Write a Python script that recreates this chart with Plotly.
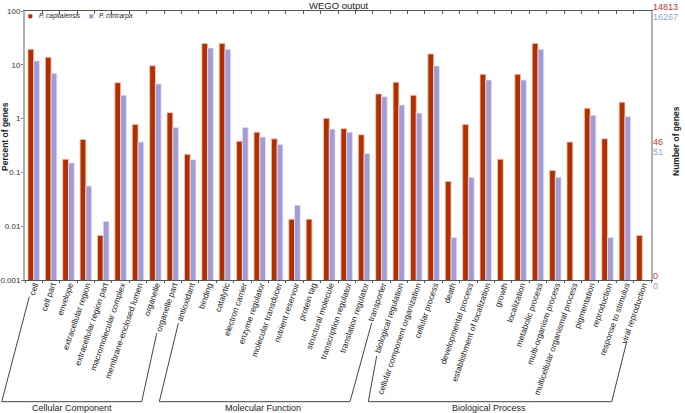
import math
import plotly.graph_objects as go

categories = [
    "cell", "cell part", "envelope", "extracellular region", "extracellular region part",
    "macromolecular complex", "membrane-enclosed lumen", "organelle", "organelle part",
    "antioxidant", "binding", "catalytic", "electron carrier", "enzyme regulator",
    "molecular transducer", "nutrient reservoir", "protein tag", "structural molecule",
    "transcription regulator", "translation regulator", "transporter",
    "biological regulation", "cellular component organization", "cellular process", "death",
    "developmental process", "establishment of localization", "growth", "localization",
    "metabolic process", "multi-organism process", "multicellular organismal process",
    "pigmentation", "reproduction", "response to stimulus", "viral reproduction",
]

capitalensis = [19.4, 13.8, 0.175, 0.41, 0.00675, 4.65, 0.78, 9.6, 1.29,
                0.217, 25.0, 25.0, 0.38, 0.56, 0.42, 0.0135, 0.0135, 1.01, 0.65, 0.50, 2.87,
                4.73, 2.71, 15.9, 0.068, 0.78, 6.65, 0.175, 6.65, 25.0, 0.109, 0.367,
                1.55, 0.42, 2.01, 0.00675]
citricarpa = [11.8, 6.95, 0.15, 0.056, 0.0123, 2.71, 0.367, 4.4, 0.68,
              0.172, 20.5, 19.4, 0.68, 0.455, 0.33, 0.0246, None, 0.64, 0.56, 0.223, 2.55,
              1.79, 1.27, 9.5, 0.00615, 0.081, 5.2, None, 5.2, 19.4, 0.081, None,
              1.15, 0.00615, 1.09, None]

y_tickvals = [0.001, 0.01, 0.1, 1, 10, 100]
y_ticktext = ["0.001", "0.01", "0.1", "1", "10", "100"]

total_genes = [14813, 16267]
mid_genes = [46, 51]
series_names = ["P. capitalensis", "P. citricarpa"]
colors = ["#B23000", "#A39BD4"]
edge_colors = ["#F2C6B8", "#E4E1F4"]

groups = ["Cellular Component", "Molecular Function", "Biological Process"]

FONT = "Liberation Sans, Arial, sans-serif"

fig = go.Figure()
for vals, name, c, ec in zip([capitalensis, citricarpa], series_names, colors, edge_colors):
    fig.add_trace(go.Bar(x=categories, y=vals, name=name, marker=dict(color=c, line=dict(color=ec, width=0.8)),
                         showlegend=False, hoverinfo="skip"))
# helper trace for top axis ticks
fig.add_trace(go.Scatter(x=categories, y=[None] * len(categories), xaxis="x2", yaxis="y",
                         mode="lines", showlegend=False, hoverinfo="skip"))

W, H = 685, 413
L, R, T, B = 25, 34, 11, 133
pw, ph = W - L - R, H - T - B

def px(x):
    return (x - L) / pw

def py(y):
    return (H - B - y) / ph

xrange = [-0.5, len(categories) - 0.5]

fig.update_layout(
    width=W, height=H,
    margin=dict(l=L, r=R, t=T, b=B, autoexpand=False),
    plot_bgcolor="white", paper_bgcolor="white",
    barmode="group", bargap=0.34, bargroupgap=0.0,
    font=dict(family=FONT, color="#222", size=9),
    xaxis=dict(type="category", range=xrange, autorange=False, tickson="boundaries", ticks="outside",
               ticklen=2, tickcolor="#555",
               showline=True, linecolor="#555", linewidth=1, tickangle=-71,
               ticklabelstandoff=-4, ticklabelshift=1,
               tickfont=dict(size=8.3, color="#222"), showgrid=False, automargin=False),
    xaxis2=dict(type="category", overlaying="x", side="top", matches="x", anchor="y",
                tickson="boundaries", ticks="inside", ticklen=3, tickcolor="#555",
                showline=True, linecolor="#555", linewidth=1, showticklabels=False, showgrid=False,
                automargin=False),
    yaxis=dict(type="log", range=[-3, 2], tickvals=y_tickvals, ticktext=y_ticktext,
               ticks="outside", ticklen=2, tickcolor="#888", showline=True, linecolor="#b0b0b0",
               linewidth=2, mirror=True, showgrid=False, zeroline=False, ticklabelstandoff=-1,
               tickfont=dict(size=8, color="#333"), automargin=False),
)

ann = []
ann.append(dict(text="WEGO output", xref="paper", yref="paper", x=0.5, y=1, xanchor="center",
                yanchor="bottom", showarrow=False, font=dict(size=9.5, color="#222"), yshift=-2))
ann.append(dict(text="<b>Percent of genes</b>", xref="paper", yref="paper", x=px(5), y=py(137),
                xanchor="center", yanchor="middle",
                textangle=-90, showarrow=False, font=dict(size=8.5, color="#222")))
ann.append(dict(text="<b>Number of genes</b>", xref="paper", yref="paper", x=px(676), y=py(141),
                xanchor="center", yanchor="middle",
                textangle=-90, showarrow=False, font=dict(size=8.5, color="#222")))

# right axis labels
right_levels = [2, math.log10(mid_genes[0] / total_genes[0] * 100), -3]
right_red = [str(total_genes[0]), str(mid_genes[0]), "0"]
right_blue = [str(total_genes[1]), str(mid_genes[1]), "0"]
for yv, rt, bt in zip(right_levels, right_red, right_blue):
    ann.append(dict(text=rt, xref="paper", yref="y", x=1, y=yv, xanchor="left", yanchor="middle",
                    xshift=0, yshift=4, showarrow=False, font=dict(size=9, color="#C0392B")))
    ann.append(dict(text=bt, xref="paper", yref="y", x=1, y=yv, xanchor="left", yanchor="middle",
                    xshift=0, yshift=-6, showarrow=False, font=dict(size=9, color="#8FA3D6")))

shapes = []
shapes.append(dict(type="line", xref="paper", yref="y", x0=1, x1=1 + 3 / pw,
                   y0=right_levels[1], y1=right_levels[1], line=dict(color="#888", width=1)))

# legend
leg = [(28.3, 37.0), (89.3, 97.2)]
for (sx, tx), name, c in zip(leg, series_names, colors):
    shapes.append(dict(type="rect", xref="paper", yref="paper", x0=px(sx), x1=px(sx + 4),
                       y0=py(18.3), y1=py(14.3), fillcolor=c, line=dict(width=0)))
    ann.append(dict(text="<i>" + name + "</i>", xref="paper", yref="paper", x=px(tx), y=py(16.3),
                    xanchor="left", yanchor="middle", showarrow=False,
                    font=dict(size=6.5, color="#222")))

# group brackets
brackets = [
    [(1.7, 401.7), (29.3, 296.7), (141.7, 401.7), (156.7, 333.3)],
    [(159.3, 401.7), (178.3, 323.3), (350.0, 401.7), (371.7, 322.7)],
    [(368.3, 401.7), (376.7, 356.0), (611.7, 401.7), (626.7, 341.7)],
]
for (lb, lt, rb, rt) in brackets:
    path = "M {} {} L {} {} L {} {} L {} {}".format(px(lt[0]), py(lt[1]), px(lb[0]), py(lb[1]),
                                                   px(rb[0]), py(rb[1]), px(rt[0]), py(rt[1]))
    shapes.append(dict(type="path", xref="paper", yref="paper", path=path,
                       line=dict(color="#444", width=1)))

group_centers = [72, 263, 489.5]
for g, cx in zip(groups, group_centers):
    ann.append(dict(text=g, xref="paper", yref="paper", x=px(cx), y=py(407.5), xanchor="center",
                    yanchor="middle", showarrow=False, font=dict(size=9, color="#222")))

fig.update_layout(annotations=ann, shapes=shapes)
fig.write_html("out.html", config={"displayModeBar": False},
               post_script="document.body.style.margin='0';document.body.style.overflow='hidden';")
